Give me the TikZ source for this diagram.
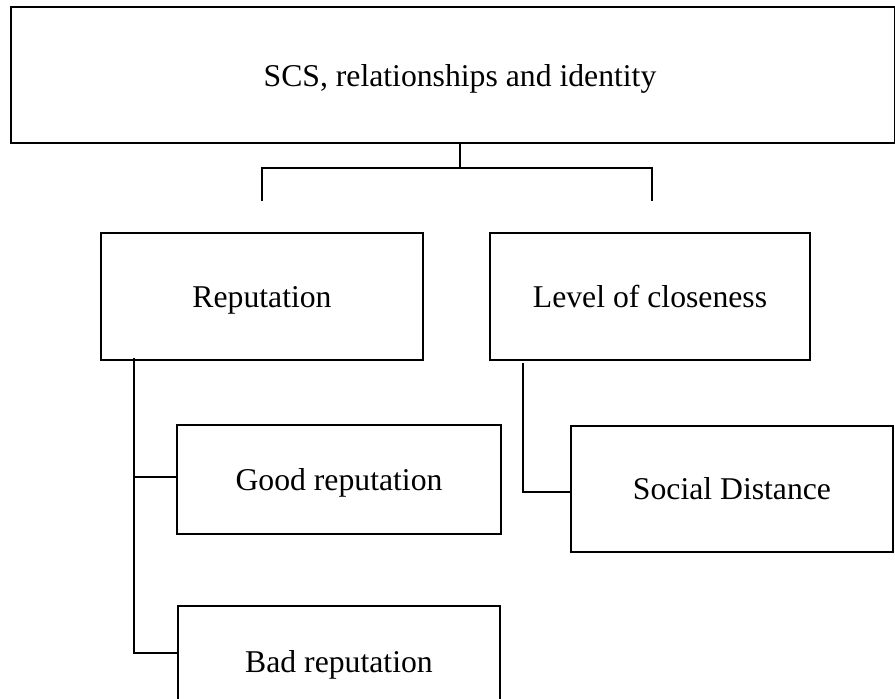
\documentclass[tikz,border=0pt]{standalone}
\usepackage{fontspec}
\setmainfont{Liberation Serif}
\usetikzlibrary{calc}
\begin{document}
\begin{tikzpicture}[x=1pt,y=-1pt,
  txt/.style={inner sep=0pt, text height=21pt, text depth=0pt,
    font=\fontsize{31.7}{38}\selectfont},
  box/.style={txt, draw, line width=2.6pt, rectangle, align=center},
  conn/.style={line width=2.6pt}]
\useasboundingbox (0,0) rectangle (895,699);
\node[box, minimum width=884.5pt, minimum height=136pt] (top) at (453.25,75) {};
\node[txt] (toptext) at (460,76) {SCS, relationships and identity};
\node[box, minimum width=322pt, minimum height=127pt] (rep) at (262,296.5) {Reputation};
\node[box, minimum width=320pt, minimum height=127pt] (lev) at (650,296.5) {Level of closeness};
\node[box, minimum width=324pt, minimum height=109pt] (good) at (339,479.5) {Good reputation};
\node[box, minimum width=322pt, minimum height=112pt] (bad) at (339,662) {Bad reputation};
\node[box, minimum width=322pt, minimum height=126pt] (soc) at (732,489) {Social Distance};
% bracket
\coordinate (bj) at (460,168);
\coordinate (bl) at (262,201);
\coordinate (br) at (652,201);
\draw[conn] (top.south -| bj) -- (bj);
\draw[conn] (bl) |- (bj) -| (br);
% reputation branch
\coordinate (rv) at (134,358);
\draw[conn] (rv) |- ($(good.west)+(0,-2.5)$);
\draw[conn] (rv) |- ($(bad.west)+(0,-9)$);
% closeness branch
\coordinate (lv) at (523,363);
\draw[conn] (lv) |- ($(soc.west)+(0,3)$);
\end{tikzpicture}
\end{document}
